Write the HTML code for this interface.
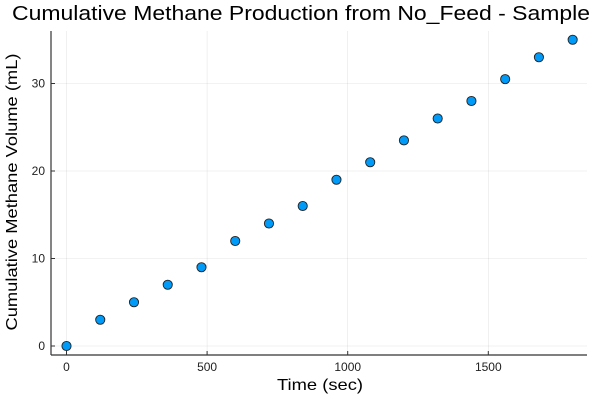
<!DOCTYPE html>
<html><head><meta charset="utf-8"><style>
body{margin:0;background:#fff;}
svg{display:block;font-family:"Liberation Sans","DejaVu Sans",sans-serif;}
</style></head><body>
<svg id="chart" width="600" height="400">
<rect width="600" height="400" fill="#fff"/>
<text x="301" y="20" text-anchor="middle" font-size="20" textLength="578" lengthAdjust="spacingAndGlyphs" fill="#000">Cumulative Methane Production from No_Feed - Sample</text>
<g id="grid"></g>
<g id="axes"></g>
<g id="points"></g>
<text x="320" y="390" text-anchor="middle" font-size="16" textLength="86" lengthAdjust="spacingAndGlyphs">Time (sec)</text>
<text transform="translate(17,192) rotate(-90)" text-anchor="middle" font-size="16" textLength="277" lengthAdjust="spacingAndGlyphs">Cumulative Methane Volume (mL)</text>
</svg>
<script>
const times = [0,120,240,360,480,600,720,840,960,1080,1200,1320,1440,1560,1680,1800];
const volumes = [0,3,5,7,9,12,14,16,19,21,23.5,26,28,30.5,33,35];
const xTicks = [0,500,1000,1500];
const yTicks = [0,10,20,30];

const L=51,R=587,T=31,B=355;
function sx(v){return 66.5+v*(140.6/500);}
function sy(v){return 346-v*8.75;}
const NS="http://www.w3.org/2000/svg";
function mk(tag,attrs,parent,text){const e=document.createElementNS(NS,tag);for(const k in attrs)e.setAttribute(k,attrs[k]);if(text!==undefined)e.textContent=text;parent.appendChild(e);return e;}
const grid=document.getElementById('grid'),axes=document.getElementById('axes'),pts=document.getElementById('points');
xTicks.forEach(t=>{
  const g=mk('line',{x1:sx(t),x2:sx(t),y1:T,y2:B,stroke:'#000','stroke-opacity':0.1,'stroke-width':0.6},grid);
  
  
  mk('line',{x1:sx(t),x2:sx(t),y1:B,y2:B-4,stroke:'#333'},axes);
  const lb=mk('text',{x:sx(t),y:B+16,'text-anchor':'middle','font-size':12,fill:'#222'},axes,String(t));
  
  
});
yTicks.forEach(t=>{
  const g=mk('line',{x1:L,x2:R,y1:sy(t),y2:sy(t),stroke:'#000','stroke-opacity':0.1,'stroke-width':0.6},grid);
  
  
  mk('line',{x1:L,x2:L+4,y1:sy(t),y2:sy(t),stroke:'#333'},axes);
  const lb=mk('text',{x:L-6,y:sy(t)+4,'text-anchor':'end','font-size':12,fill:'#222'},axes,String(t));
  
  
});
mk('line',{x1:L,x2:R,y1:B,y2:B,stroke:'#333','stroke-width':1.2},axes);
mk('line',{x1:L,x2:L,y1:T,y2:B,stroke:'#333','stroke-width':1.2},axes);
times.forEach((t,i)=>{
  const c=mk('circle',{cx:sx(t),cy:sy(volumes[i]),r:4.6,fill:'#009af9',stroke:'#222','stroke-width':0.9},pts);
  
  
});
</script>
</body></html>
